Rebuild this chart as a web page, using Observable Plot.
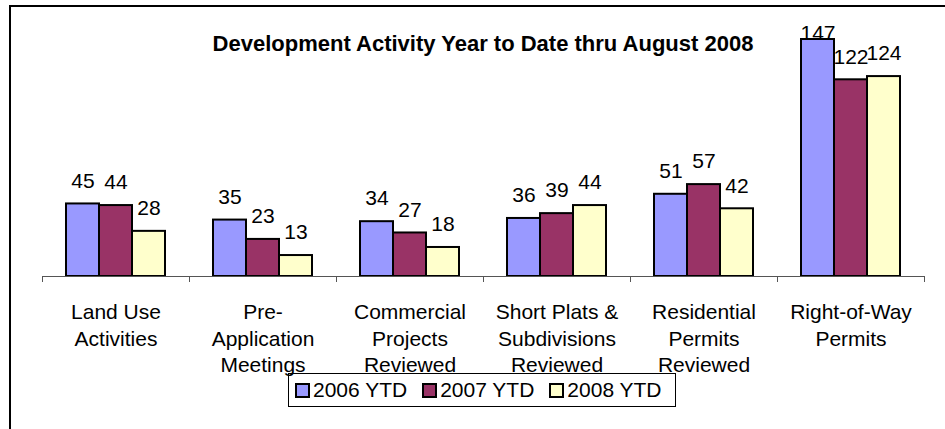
<!DOCTYPE html>
<html>
<head>
<meta charset="utf-8">
<script src="https://cdn.jsdelivr.net/npm/d3@7"></script>
<script src="https://cdn.jsdelivr.net/npm/@observablehq/plot@0.6"></script>
<style>
  html, body { margin: 0; padding: 0; background: #fff; }
  body { width: 945px; height: 429px; overflow: hidden; position: relative; font-family: "Liberation Sans", Arial, sans-serif; }
  #frame { position: absolute; left: 9px; top: 5px; width: 1000px; height: 1000px; border-left: 2px solid #000; border-top: 2px solid #000; }
  #chart { position: absolute; left: 0; top: 0; }
  #title { position: absolute; left: 0; width: 966px; top: 33px; text-align: center; font-weight: bold; font-size: 22px; line-height: 22px; color: #000; }
  #legend { position: absolute; left: 288px; top: 373px; width: 380px; height: 32px; border: 1px solid #000; display: flex; align-items: center; padding-left: 6px; box-sizing: content-box; gap: 15px; font-size: 21px; color: #000; }
  .item { display: flex; align-items: center; gap: 3px; white-space: nowrap; }
  .sw { width: 11px; height: 11px; border: 2px solid #000; }
</style>
</head>
<body>
<div id="frame"></div>
<div id="chart"></div>
<div id="title">Development Activity Year to Date thru August 2008</div>
<div id="legend"></div>
<script>
const categories = [
  "Land Use Activities",
  "Pre-Application Meetings",
  "Commercial Projects Reviewed",
  "Short Plats & Subdivisions Reviewed",
  "Residential Permits Reviewed",
  "Right-of-Way Permits"
];
const tickLabels = [
  "Land Use\nActivities",
  "Pre-\nApplication\nMeetings",
  "Commercial\nProjects\nReviewed",
  "Short Plats &\nSubdivisions\nReviewed",
  "Residential\nPermits\nReviewed",
  "Right-of-Way\nPermits"
];
const seriesNames = ["2006 YTD", "2007 YTD", "2008 YTD"];
const seriesColors = ["#9999FF", "#993366", "#FFFFCC"];
const values2006 = [45, 35, 34, 36, 51, 147];
const values2007 = [44, 23, 27, 39, 57, 122];
const values2008 = [28, 13, 18, 44, 42, 124];

const allSeries = [values2006, values2007, values2008];
const rows = allSeries.map((vals, s) => categories.map((c, i) => ({cat: c, value: vals[i], series: seriesNames[s]})));
const labelOf = new Map(categories.map((c, i) => [c, tickLabels[i]]));

const bw = 147;       // band width in px (x range / categories)
const barW = 33;
const groupStart = 24;
const maxVal = d3.max(allSeries.flat());

const marks = [];
rows.forEach((data, s) => {
  const insetLeft = groupStart + s * barW;
  const insetRight = bw - insetLeft - barW;
  marks.push(Plot.barY(data, {x: "cat", y: "value", fill: seriesColors[s], stroke: "#000", strokeWidth: 2, insetLeft, insetRight}));
});
rows.forEach((data, s) => {
  marks.push(Plot.text(data, {
    x: "cat",
    y: d => Math.min(d.value, 136.5),
    text: d => String(d.value),
    dx: (s - 1) * barW,
    dy: -23,
    fontSize: 21,
    fill: "#000"
  }));
});
marks.push(Plot.ruleY([0], {stroke: "#555", strokeWidth: 1}));
marks.push(Plot.ruleX(categories, {x: d => d, y1: 0, y2: 0, insetBottom: -6, dx: -bw / 2, stroke: "#555", strokeWidth: 1}));
marks.push(Plot.ruleX([categories[categories.length - 1]], {x: d => d, y1: 0, y2: 0, insetBottom: -6, dx: bw / 2, stroke: "#555", strokeWidth: 1}));
marks.push(Plot.axisX({
  tickSize: 0,
  tickPadding: 24,
  fontSize: 21,
  lineHeight: 1.26,
  tickFormat: d => labelOf.get(d),
  label: null,
  fill: "#000"
}));

const plot = Plot.plot({
  width: 945,
  height: 429,
  marginLeft: 42,
  marginRight: 21,
  marginTop: 39,
  marginBottom: 153,
  style: {fontFamily: "'Liberation Sans', Arial, sans-serif", background: "transparent", overflow: "visible"},
  x: {domain: categories, padding: 0, label: null},
  y: {domain: [0, maxVal], axis: null},
  marks
});
document.getElementById("chart").appendChild(plot);

const legend = document.getElementById("legend");
seriesNames.forEach((name, s) => {
  const item = document.createElement("div");
  item.className = "item";
  const sw = document.createElement("div");
  sw.className = "sw";
  sw.style.background = seriesColors[s];
  const t = document.createElement("span");
  t.textContent = name;
  item.appendChild(sw);
  item.appendChild(t);
  legend.appendChild(item);
});
</script>
</body>
</html>
